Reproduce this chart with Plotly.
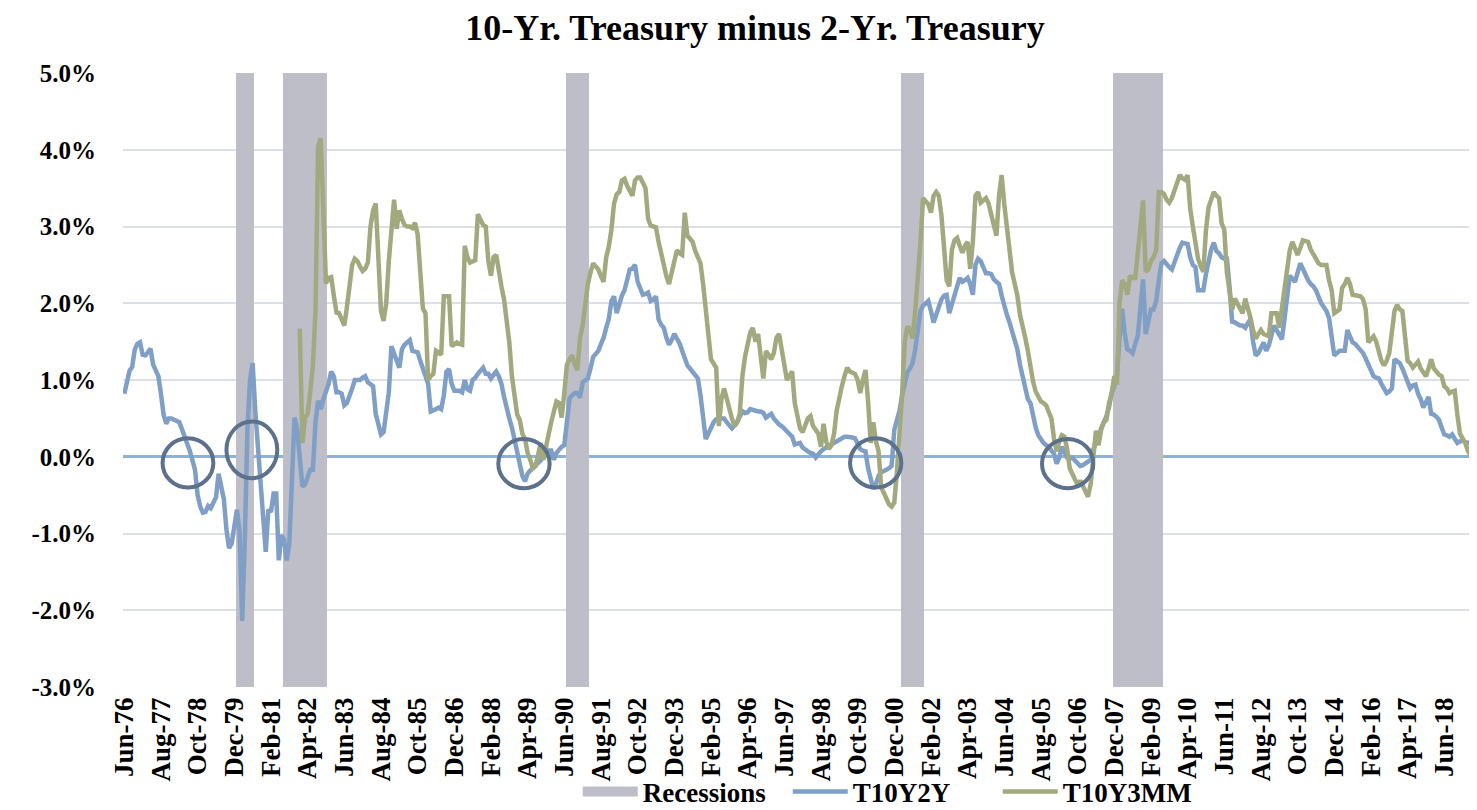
import pandas as pd
import plotly.graph_objects as go

# ---------------- data ----------------
months = pd.date_range("1976-06-01", periods=517, freq="MS").strftime("%b-%y").tolist()

t10y2y = [
    0.82, 0.97, 1.12, 1.17, 1.40, 1.47, 1.49,                                   # 1976 Jun-Dec
    1.33, 1.32, 1.36, 1.41, 1.20, 1.12, 1.05, 0.82, 0.55, 0.43, 0.50, 0.50,     # 1977
    0.48, 0.46, 0.45, 0.36, 0.25, 0.17, 0.08, -0.03, -0.17, -0.50, -0.65, -0.73,  # 1978
    -0.72, -0.64, -0.67, -0.60, -0.53, -0.22, -0.40, -0.55, -0.95, -1.19, -1.13, -0.85,  # 1979
    -0.69, -0.97, -2.14, -1.10, 0.35, 1.00, 1.22, 0.60, 0.10, -0.45, -0.85, -1.24,  # 1980
    -0.69, -0.72, -0.48, -0.48, -1.35, -1.02, -1.08, -1.35, -1.13, -0.28, 0.51, 0.36,  # 1981
    0.00, -0.39, -0.36, -0.25, -0.17, -0.17, 0.45, 0.73, 0.62, 0.75, 0.84, 0.95,  # 1982
    1.11, 1.05, 0.84, 0.84, 0.82, 0.67, 0.70, 0.78, 0.89, 1.00, 1.00, 1.00,     # 1983
    1.03, 1.05, 0.97, 0.95, 0.92, 0.56, 0.40, 0.29, 0.32, 0.55, 0.84, 1.44,     # 1984
    1.35, 1.27, 1.16, 1.40, 1.46, 1.49, 1.52, 1.38, 1.37, 1.36, 1.25, 1.16,     # 1985
    1.05, 0.95, 0.59, 0.60, 0.62, 0.64, 0.62, 0.80, 1.11, 1.14, 0.95, 0.86,     # 1986
    0.86, 0.86, 0.84, 1.00, 0.88, 0.86, 1.00, 1.03, 1.08, 1.13, 1.16, 1.08,     # 1987
    1.08, 1.02, 1.07, 1.11, 1.05, 0.95, 0.78, 0.62, 0.50, 0.38, 0.22, 0.03,     # 1988
    -0.12, -0.25, -0.32, -0.22, -0.18, -0.14, -0.10, -0.08, -0.05, 0.01, 0.04, 0.08,  # 1989
    0.08, -0.04, 0.05, 0.10, 0.13, 0.15, 0.45, 0.76, 0.80, 0.83, 0.83, 0.77,    # 1990
    0.97, 1.00, 1.02, 1.15, 1.30, 1.34, 1.38, 1.47, 1.55, 1.68, 1.80, 2.03,     # 1991
    2.09, 1.87, 2.00, 2.10, 2.17, 2.30, 2.44, 2.45, 2.50, 2.28, 2.20, 2.11,     # 1992
    2.12, 2.14, 2.03, 2.05, 2.09, 1.79, 1.72, 1.68, 1.55, 1.46, 1.52, 1.60,     # 1993
    1.54, 1.48, 1.38, 1.28, 1.19, 1.15, 1.11, 1.06, 1.02, 0.80, 0.55, 0.23,     # 1994
    0.30, 0.38, 0.45, 0.49, 0.51, 0.50, 0.50, 0.45, 0.40, 0.37, 0.41, 0.45,     # 1995
    0.52, 0.59, 0.57, 0.58, 0.62, 0.61, 0.59, 0.59, 0.59, 0.57, 0.51, 0.54,     # 1996
    0.56, 0.50, 0.45, 0.42, 0.40, 0.36, 0.33, 0.30, 0.26, 0.16, 0.17, 0.18,     # 1997
    0.12, 0.09, 0.07, 0.05, 0.04, -0.01, 0.04, 0.07, 0.10, 0.12, 0.13, 0.15,    # 1998
    0.18, 0.20, 0.21, 0.24, 0.26, 0.26, 0.26, 0.25, 0.24, 0.18, 0.10, 0.08,     # 1999
    0.07, -0.15, -0.28, -0.42, -0.35, -0.25, -0.20, -0.19, -0.17, -0.15, -0.12, 0.35,  # 2000
    0.48, 0.60, 0.80, 0.95, 1.10, 1.15, 1.22, 1.40, 1.70, 1.90, 1.97, 2.00,     # 2001
    2.03, 1.90, 1.75, 1.85, 1.95, 2.05, 2.10, 2.11, 1.87, 2.00, 2.14, 2.22,     # 2002
    2.33, 2.28, 2.30, 2.33, 2.25, 2.11, 2.50, 2.58, 2.55, 2.45, 2.39, 2.39,     # 2003
    2.38, 2.31, 2.28, 2.25, 2.10, 1.95, 1.85, 1.75, 1.62, 1.50, 1.40, 1.20,     # 2004
    1.05, 0.85, 0.75, 0.70, 0.50, 0.38, 0.28, 0.22, 0.18, 0.15, 0.13, 0.08,     # 2005
    0.04, -0.09, -0.01, 0.13, 0.05, -0.01, -0.02, -0.01, -0.05, -0.08, -0.12, -0.11,  # 2006
    -0.09, -0.06, -0.04, 0.10, 0.18, 0.25, 0.37, 0.45, 0.53, 0.65, 0.83, 0.92,  # 2007
    1.05, 1.55, 1.93, 1.60, 1.40, 1.38, 1.35, 1.47, 1.58, 1.95, 2.31, 1.60,     # 2008
    1.76, 1.92, 1.92, 2.03, 2.30, 2.52, 2.55, 2.50, 2.47, 2.44, 2.52, 2.63,     # 2009
    2.72, 2.79, 2.78, 2.77, 2.60, 2.50, 2.47, 2.17, 2.17, 2.17, 2.38, 2.58,     # 2010
    2.70, 2.79, 2.68, 2.65, 2.60, 2.58, 2.58, 2.22, 1.76, 1.75, 1.73, 1.71,     # 2011
    1.71, 1.68, 1.74, 1.79, 1.50, 1.32, 1.35, 1.43, 1.49, 1.38, 1.45, 1.58,     # 2012
    1.71, 1.65, 1.58, 1.53, 1.80, 2.10, 2.36, 2.32, 2.28, 2.40, 2.52, 2.45,     # 2013
    2.36, 2.30, 2.25, 2.22, 2.17, 2.08, 2.00, 1.95, 1.90, 1.81, 1.60, 1.32,     # 2014
    1.35, 1.38, 1.38, 1.38, 1.65, 1.55, 1.49, 1.47, 1.43, 1.38, 1.35, 1.28,     # 2015
    1.21, 1.12, 1.05, 1.03, 1.02, 0.95, 0.90, 0.83, 0.85, 0.89, 1.27, 1.25,     # 2016
    1.22, 1.15, 1.05, 0.95, 0.89, 0.93, 0.94, 0.82, 0.75, 0.64, 0.70, 0.78,     # 2017
    0.56, 0.55, 0.52, 0.48, 0.38, 0.29, 0.28, 0.26, 0.29, 0.24, 0.18, 0.20,     # 2018
    0.21, 0.19, 0.18, 0.18, 0.24, 0.28,                                         # 2019 Jan-Jun
]

t10y3mm_first_month = "Jan-82"
t10y3mm = [
    1.67, 0.18, 0.51, 0.56, 0.85, 1.19, 1.90, 4.05, 4.15, 3.00, 2.26, 2.33,     # 1982
    2.34, 2.10, 1.88, 1.87, 1.80, 1.71, 1.95, 2.25, 2.50, 2.58, 2.55, 2.48,     # 1983
    2.42, 2.45, 2.53, 3.00, 3.21, 3.30, 2.50, 1.90, 1.77, 2.00, 2.55, 3.00,     # 1984
    3.35, 2.97, 3.21, 3.10, 3.02, 3.00, 3.00, 2.98, 3.05, 2.90, 2.40, 1.93,     # 1985
    1.87, 1.00, 1.05, 1.08, 1.38, 1.35, 1.33, 2.09, 2.09, 2.09, 1.44, 1.47,     # 1986
    1.49, 1.47, 1.46, 2.75, 2.60, 2.53, 2.55, 2.56, 3.16, 3.10, 3.02, 3.00,     # 1987
    2.55, 2.36, 2.60, 2.63, 2.40, 2.22, 2.05, 1.75, 1.49, 1.05, 0.80, 0.55,     # 1988
    0.48, 0.30, 0.23, 0.05, -0.04, -0.15, -0.12, 0.05, 0.18, -0.04, 0.10, 0.29,  # 1989
    0.45, 0.60, 0.72, 0.70, 0.51, 0.83, 1.20, 1.27, 1.32, 1.20, 1.13, 1.55,     # 1990
    1.71, 1.98, 2.25, 2.40, 2.52, 2.48, 2.44, 2.35, 2.28, 2.60, 2.74, 2.96,     # 1991
    3.30, 3.42, 3.45, 3.60, 3.62, 3.53, 3.45, 3.40, 3.60, 3.64, 3.64, 3.58,     # 1992
    3.50, 3.10, 3.01, 3.00, 2.99, 2.80, 2.65, 2.47, 2.35, 2.25, 2.40, 2.55,     # 1993
    2.69, 2.65, 2.63, 3.18, 2.88, 2.84, 2.80, 2.68, 2.60, 2.52, 2.25, 1.98,     # 1994
    1.60, 1.27, 1.20, 1.16, 0.40, 0.75, 0.89, 0.75, 0.62, 0.50, 0.40, 0.45,     # 1995
    0.56, 1.05, 1.30, 1.49, 1.62, 1.68, 1.50, 1.60, 1.30, 1.02, 1.38, 1.32,     # 1996
    1.27, 1.35, 1.55, 1.60, 1.43, 1.20, 1.00, 1.05, 1.11, 0.70, 0.55, 0.37,     # 1997
    0.32, 0.40, 0.50, 0.53, 0.40, 0.35, 0.30, 0.13, 0.43, 0.20, 0.10, 0.15,     # 1998
    0.30, 0.60, 0.80, 0.92, 1.05, 1.16, 1.11, 1.10, 1.08, 1.00, 0.83, 1.00,     # 1999
    1.13, 0.72, 0.18, 0.45, 0.20, 0.07, -0.40, -0.47, -0.55, -0.62, -0.65, -0.60,  # 2000
    -0.20, 0.25, 0.83, 1.50, 1.70, 1.65, 1.54, 1.90, 2.30, 2.80, 3.37, 3.33,    # 2001
    3.29, 3.18, 3.40, 3.45, 3.40, 3.15, 2.65, 2.30, 2.22, 2.70, 2.82, 2.85,     # 2002
    2.75, 2.66, 2.75, 2.80, 2.45, 2.80, 3.40, 3.45, 3.31, 3.35, 3.37, 3.30,     # 2003
    3.15, 3.00, 2.88, 3.40, 3.67, 3.29, 2.95, 2.65, 2.40, 2.25, 2.10, 1.85,     # 2004
    1.72, 1.55, 1.38, 1.15, 0.98, 0.85, 0.78, 0.72, 0.70, 0.67, 0.58, 0.50,     # 2005
    0.23, 0.07, 0.20, 0.28, 0.26, 0.10, -0.15, -0.22, -0.30, -0.37, -0.31, -0.38,  # 2006
    -0.42, -0.52, -0.35, 0.05, 0.34, 0.15, 0.35, 0.45, 0.48, 0.70, 0.83, 1.05,  # 2007
    0.94, 2.00, 2.30, 2.25, 2.11, 2.36, 2.33, 2.33, 2.70, 3.00, 3.34, 2.41,     # 2008
    2.44, 2.55, 2.60, 2.69, 3.45, 3.45, 3.42, 3.35, 3.31, 3.37, 3.48, 3.59,     # 2009
    3.67, 3.63, 3.61, 3.67, 3.23, 3.00, 2.80, 2.58, 2.48, 2.41, 2.95, 3.25,     # 2010
    3.35, 3.45, 3.40, 3.37, 3.04, 2.96, 2.40, 2.10, 1.92, 2.06, 2.00, 1.92,     # 2011
    1.87, 2.06, 1.95, 1.81, 1.65, 1.54, 1.60, 1.65, 1.60, 1.58, 1.57, 1.87,     # 2012
    1.87, 1.87, 1.68, 1.95, 2.25, 2.50, 2.69, 2.80, 2.72, 2.63, 2.72, 2.82,     # 2013
    2.81, 2.80, 2.70, 2.63, 2.58, 2.52, 2.50, 2.50, 2.50, 2.30, 2.17, 1.87,     # 2014
    1.90, 1.92, 2.20, 2.25, 2.33, 2.25, 2.11, 2.10, 2.09, 2.09, 2.05, 1.92,     # 2015
    1.49, 1.53, 1.57, 1.50, 1.38, 1.25, 1.19, 1.25, 1.35, 1.60, 1.90, 1.98,     # 2016
    1.92, 1.90, 1.49, 1.25, 1.22, 1.16, 1.20, 1.24, 1.15, 1.11, 1.05, 1.15,     # 2017
    1.27, 1.15, 1.10, 1.07, 1.05, 0.92, 0.89, 0.83, 0.85, 0.86, 0.55, 0.30,     # 2018
    0.24, 0.18, 0.08, 0.02, -0.10, -0.17,                                       # 2019 Jan-Jun
]

recessions = [("Jan-80", "Jul-80"), ("Jul-81", "Nov-82"), ("Jul-90", "Mar-91"),
              ("Mar-01", "Nov-01"), ("Dec-07", "Jun-09")]

y_tick_values = [-3, -2, -1, 0, 1, 2, 3, 4, 5]
y_tick_labels = ["-3.0%", "-2.0%", "-1.0%", "0.0%", "1.0%", "2.0%", "3.0%", "4.0%", "5.0%"]
x_tick_every = 14

assert len(t10y2y) == len(months), len(t10y2y)
g0 = months.index(t10y3mm_first_month)
assert len(t10y3mm) == len(months) - g0, len(t10y3mm)

# ---------------- figure ----------------
FONT = "Times New Roman, Liberation Serif, serif"
REC_COLOR = "#BDBEC8"

rec_x = []
for a, b in recessions:
    rec_x += months[months.index(a): months.index(b) + 1]

fig = go.Figure()
fig.add_trace(go.Bar(
    x=rec_x, y=[8] * len(rec_x), base=-3, width=1, name="Recessions",
    legendgroup="rec", showlegend=False,
    marker=dict(color=REC_COLOR, line=dict(width=0)), hoverinfo="skip"))
# legend entry for the recession shading (drawn as a wide grey swatch)
fig.add_trace(go.Scatter(
    x=[None], y=[None], mode="lines", name="Recessions", legendgroup="rec",
    line=dict(color=REC_COLOR, width=11)))
fig.add_trace(go.Scatter(
    x=months, y=t10y2y, mode="lines", name="T10Y2Y",
    line=dict(color="#7F9FC6", width=4.5)))
fig.add_trace(go.Scatter(
    x=months[g0:], y=t10y3mm, mode="lines", name="T10Y3MM",
    line=dict(color="#A3A97F", width=4.5)))

# highlight circles (centre index, centre value, half-width in months, half-height in %)
circles = [(24.3, -0.08, 9.7, 0.32), (48.7, 0.09, 9.7, 0.37), (152.6, -0.09, 9.8, 0.32),
           (286.9, -0.08, 9.8, 0.32), (360.2, -0.09, 9.8, 0.32)]
for cx, cy, rx, ry in circles:
    fig.add_shape(type="circle", xref="x", yref="y",
                  x0=cx - rx, x1=cx + rx, y0=cy - ry, y1=cy + ry,
                  line=dict(color="#5C728C", width=4), layer="above")

fig.update_layout(
    width=1469, height=802,
    margin=dict(l=115, r=0, t=65, b=123, autoexpand=False),
    paper_bgcolor="white", plot_bgcolor="white",
    bargap=0,
    font=dict(family=FONT, color="black"),
    title=dict(text="10-Yr. Treasury minus 2-Yr. Treasury",
               font=dict(family=FONT, size=36, weight="bold", color="black"),
               x=0.5085, xanchor="center", y=0.976, yanchor="middle"),
    showlegend=True,
    legend=dict(orientation="h", x=0.5685, xanchor="center", y=-0.171, yanchor="middle",
                font=dict(family=FONT, size=27, weight="bold", color="black"),
                itemwidth=55, entrywidth=140,
                bgcolor="rgba(0,0,0,0)", traceorder="normal"),
    xaxis=dict(type="category", categoryorder="array", categoryarray=months,
               range=[-0.5, len(months) - 0.5],
               tickmode="array", tickvals=months[::x_tick_every], ticktext=months[::x_tick_every],
               tickangle=-90, tickfont=dict(family=FONT, size=27, weight="bold", color="black"),
               ticklabelstandoff=4,
               showgrid=False, zeroline=False, showline=False, ticks=""),
    yaxis=dict(range=[-3, 5], tickmode="array", tickvals=y_tick_values, ticktext=y_tick_labels,
               tickfont=dict(family=FONT, size=25, weight="bold", color="black"),
               showgrid=True, gridcolor="#DCDFE6", gridwidth=2,
               zeroline=True, zerolinecolor="#8DB2D6", zerolinewidth=2.5,
               showline=False, ticks="", ticklabelstandoff=26),
)

fig.write_html("out.html")
